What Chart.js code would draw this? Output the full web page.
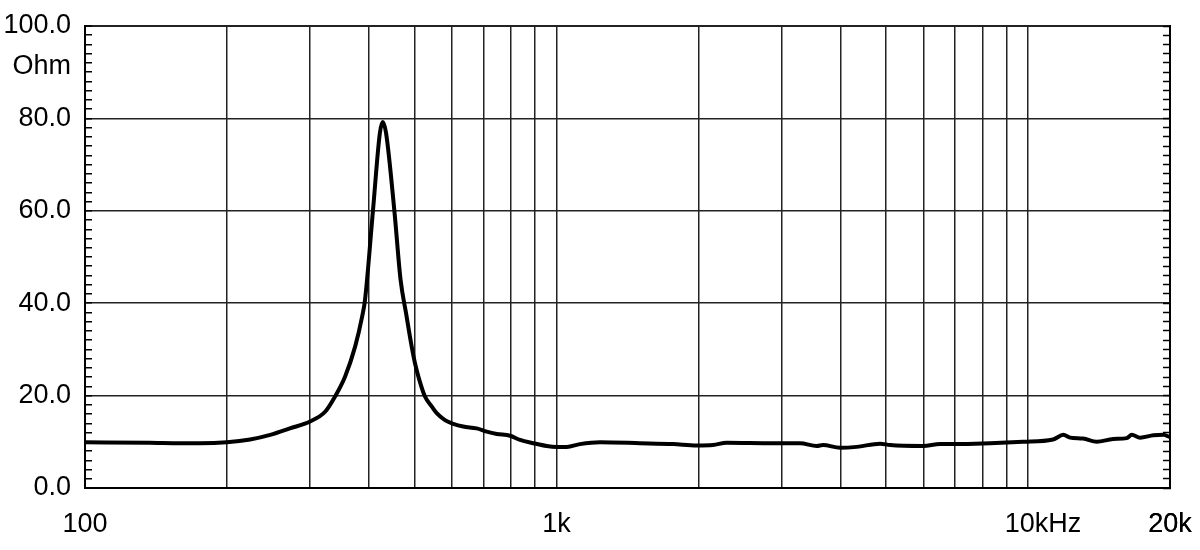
<!DOCTYPE html>
<html>
<head>
<meta charset="utf-8">
<script src="https://cdn.jsdelivr.net/npm/chart.js@4.4.0/dist/chart.umd.min.js"></script>
<style>
html, body { margin: 0; padding: 0; background: #fff; }
#wrap { width: 1200px; height: 550px; }
</style>
</head>
<body>
<div id="wrap"><canvas id="mycanvas" width="1200" height="550"></canvas></div>
<script>
// impedance curve
var freq = [100, 137, 160, 175, 200, 224, 247, 272, 300, 323,
            339, 356, 374, 387, 392.5, 408, 422, 428, 435,
            453, 467, 479.5, 493, 501, 511.7, 526, 544, 557,
            580, 604, 634, 677, 711, 747, 797, 837, 893, 953,
            1001, 1051, 1121, 1237, 1503, 1767, 1983, 2147, 2296, 2879, 3284,
            3564, 3674, 3993, 4331, 4854, 5098, 5988, 6507, 7060, 8307,
            9759, 11298, 11882, 12277, 13082, 13987, 15150, 16195, 16595, 17282,
            18443, 19364, 20000];
var ohm = [9.9, 9.8, 9.7, 9.7, 9.9, 10.5, 11.5, 12.9, 14.4, 16.5,
           19.8, 24.1, 30.6, 37.1, 40.7, 60, 76.8, 79.2, 76.8,
           60, 45, 37.9, 30.6, 27.0, 23.4, 19.8, 17.6, 16.2,
           14.7, 13.9, 13.3, 12.9, 12.2, 11.7, 11.3, 10.4, 9.7, 9.1,
           8.9, 8.9, 9.5, 9.9, 9.7, 9.5, 9.2, 9.3, 9.8, 9.7, 9.7,
           9.1, 9.3, 8.7, 8.9, 9.6, 9.3, 9.1, 9.5, 9.5, 9.7,
           10.0, 10.5, 11.5, 10.9, 10.7, 10.0, 10.6, 10.8, 11.5, 10.9,
           11.4, 11.5, 11.0];

var xLabelValues = [100, 1000, 10000, 20000];
var xLabelText = ['100', '1k', '10kHz', '20k'];
var yLabelValues = [0, 20, 40, 60, 80, 100];
var yLabelText = ['0.0', '20.0', '40.0', '60.0', '80.0', '100.0'];
var unitLabel = 'Ohm';
var unitValue = 91.3;

var FONT = { family: '"Liberation Sans", Arial, sans-serif', size: 27 };

var points = [];
for (var i = 0; i < freq.length; i++) {
    points.push({ x: freq[i], y: ohm[i] });
}

function isMajor(v) {
    return yLabelValues.indexOf(v) >= 0;
}

function yTicks(axis) {
    var t = [];
    for (var v = 0; v <= 100; v += 2) t.push({ value: v });
    t.push({ value: unitValue });
    axis.ticks = t;
}

var ctx = document.getElementById("mycanvas");

var impChart = new Chart(ctx, {
    type: 'line',
    data: {
        datasets: [{
            data: points,
            borderColor: '#000',
            borderWidth: 4,
            pointRadius: 0,
            fill: false,
            cubicInterpolationMode: 'monotone'
        }]
    },
    options: {
        responsive: false,
        animation: false,
        devicePixelRatio: 1,
        layout: { padding: { left: 0, top: 26, right: 30, bottom: 0 } },
        plugins: { legend: { display: false }, tooltip: { enabled: false } },
        scales: {
            x: {
                type: 'logarithmic',
                min: 100,
                max: 20000,
                afterBuildTicks: function(axis) {
                    var t = [];
                    for (var d = 100; d <= 10000; d *= 10) {
                        for (var k = 1; k <= 9; k++) {
                            if (d * k <= 20000) t.push({ value: d * k });
                        }
                    }
                    t.push({ value: 20000 });
                    axis.ticks = t;
                },
                afterFit: function(axis) {
                    axis.height = 62;
                    // let the layout padding decide the plot edges
                    axis.paddingLeft = 0;
                    axis.paddingRight = 0;
                },
                grid: { color: '#222', lineWidth: 1.5, drawTicks: false },
                border: { color: '#000', width: 2 },
                ticks: {
                    autoSkip: false,
                    maxRotation: 0,
                    padding: 20,
                    color: '#000',
                    font: FONT,
                    callback: function(value) {
                        var idx = xLabelValues.indexOf(value);
                        if (idx < 0) return '';
                        var s = xLabelText[idx];
                        // the reference centres "10k" on its line, "Hz" hangs to the right
                        if (s.indexOf('Hz') > 0) s = '    ' + s;
                        return s;
                    }
                }
            },
            y: {
                min: 0,
                max: 100,
                afterBuildTicks: yTicks,
                afterFit: function(axis) {
                    axis.width = 85;
                    axis.paddingTop = 0;
                    axis.paddingBottom = 0;
                },
                grid: {
                    color: function(c) {
                        return isMajor(c.tick.value) ? '#222' : 'rgba(0,0,0,0)';
                    },
                    lineWidth: function(c) {
                        var v = c.tick.value;
                        return (v === 0 || v === 100) ? 2 : 1.5;
                    },
                    tickColor: function(c) {
                        return c.tick.value === unitValue ? 'rgba(0,0,0,0)' : '#000';
                    },
                    tickWidth: 1.5,
                    tickLength: -7
                },
                border: { color: '#000', width: 2 },
                ticks: {
                    autoSkip: false,
                    padding: 21,
                    color: '#000',
                    font: FONT,
                    callback: function(value) {
                        if (value === unitValue) return unitLabel;
                        var idx = yLabelValues.indexOf(value);
                        return idx < 0 ? '' : yLabelText[idx];
                    }
                }
            },
            y2: {
                position: 'right',
                min: 0,
                max: 100,
                afterBuildTicks: function(axis) {
                    var t = [];
                    for (var v = 0; v <= 100; v += 2) t.push({ value: v });
                    axis.ticks = t;
                },
                afterFit: function(axis) {
                    axis.width = 0;
                    axis.paddingTop = 0;
                    axis.paddingBottom = 0;
                },
                grid: {
                    drawOnChartArea: false,
                    tickColor: '#000',
                    tickWidth: 1.5,
                    tickLength: -7
                },
                border: { color: '#000', width: 2 },
                ticks: { display: false }
            }
        }
    }
});
</script>
</body>
</html>
